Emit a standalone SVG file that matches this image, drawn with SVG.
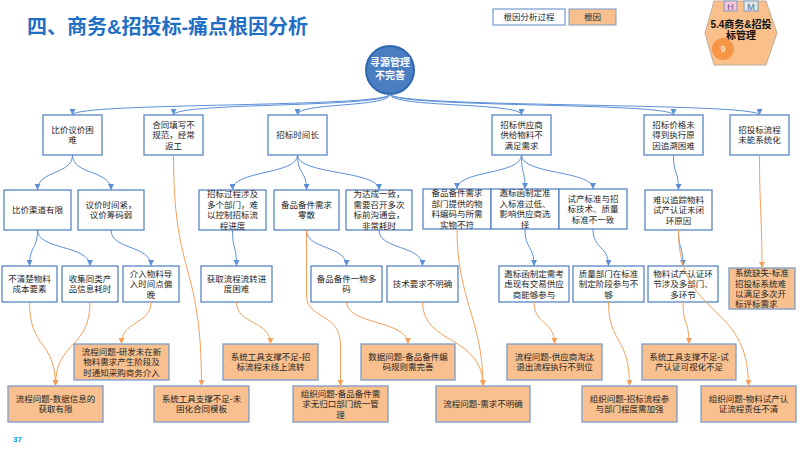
<svg xmlns="http://www.w3.org/2000/svg" width="800" height="450" viewBox="0 0 800 450">
<defs>
<style>
text{font-family:"Liberation Sans","Noto Sans CJK SC",sans-serif;font-size:8.5px;fill:#262626;text-anchor:middle}
.box{fill:#fff;stroke:#5a86c5;stroke-width:1.3}
.rc{fill:#f8c08e;stroke:#7c9cc9;stroke-width:1.3}
.b{fill:none;stroke:#5b8fd6;stroke-width:1;marker-end:url(#ab)}
.o{fill:none;stroke:#f5a05a;stroke-width:1;marker-end:url(#ao)}
.title{font-size:20px;font-weight:bold;fill:#1f6fc5;text-anchor:start}
</style>
<marker id="ab" viewBox="0 0 6 6" refX="6" refY="3" markerWidth="6" markerHeight="6" markerUnits="userSpaceOnUse" orient="auto"><path d="M0,0 L6,3 L0,6 z" fill="#5b8fd6"/></marker>
<marker id="ao" viewBox="0 0 6 6" refX="6" refY="3" markerWidth="6" markerHeight="6" markerUnits="userSpaceOnUse" orient="auto"><path d="M0,0 L6,3 L0,6 z" fill="#f5a05a"/></marker>
</defs>
<rect width="800" height="450" fill="#fff"/>
<text class="title" x="27" y="34">四、商务&amp;招投标-痛点根因分析</text>

<g id="legend">
<rect x="493" y="9" width="72" height="16" fill="#fff" stroke="#5a86c5" stroke-width="1"/>
<text x="529" y="20">根因分析过程</text>
<rect x="569" y="9" width="47" height="16" fill="#f8c08e" stroke="#7c9cc9" stroke-width="1"/>
<text x="592.5" y="20">根因</text>
</g>

<g id="badge">
<polygon points="714,1 766,1 777,33 766,65 714,65 705,33" fill="#f9c08c" stroke="#b0a090" stroke-width="0.8"/>
<rect x="724" y="1" width="13" height="10" fill="#f4c7d0" stroke="#6a8fc8" stroke-width="0.8"/>
<text x="730.5" y="10" style="font-size:9px;fill:#6a5aa8">H</text>
<rect x="744" y="1" width="14" height="10" fill="#dde8e0" stroke="#6a8fc8" stroke-width="0.8"/>
<text x="751" y="10" style="font-size:9px;fill:#4a6aa8">M</text>
<text x="741" y="28" style="font-size:10px;font-weight:bold;fill:#111">5.4商务&amp;招投</text>
<text x="741" y="39" style="font-size:10px;font-weight:bold;fill:#111">标管理</text>
<circle cx="723" cy="49" r="11" fill="#f79646"/>
<text x="723" y="52" style="font-size:9px;fill:#fff">9</text>
</g>

<g id="root">
<circle cx="390" cy="70" r="24" fill="#4a7ec2" stroke="#2f67b0" stroke-width="2"/>
<text x="390" y="66" style="font-size:10px;font-weight:bold;fill:#fff">寻源管理</text>
<text x="390" y="79" style="font-size:10px;font-weight:bold;fill:#fff">不完善</text>
</g>

<g id="n1"><rect class="box" x="43" y="115" width="59" height="40"/><text x="72.5" y="132.75">比价议价困</text><text x="72.5" y="143.25">难</text></g>
<g id="n2"><rect class="box" x="144" y="115" width="59" height="40"/><text x="173.5" y="127.5">合同填写不</text><text x="173.5" y="138">规范，经常</text><text x="173.5" y="148.5">返工</text></g>
<g id="n3"><rect class="box" x="268" y="115" width="59" height="40"/><text x="297.5" y="138">招标时间长</text></g>
<g id="n4"><rect class="box" x="492" y="115" width="59" height="40"/><text x="521.5" y="127.5">招标供应商</text><text x="521.5" y="138">供给物料不</text><text x="521.5" y="148.5">满足需求</text></g>
<g id="n5"><rect class="box" x="644" y="115" width="59" height="40"/><text x="673.5" y="127.5">招标价格未</text><text x="673.5" y="138">得到执行原</text><text x="673.5" y="148.5">因追溯困难</text></g>
<g id="n6"><rect class="box" x="730" y="115" width="59" height="40"/><text x="759.5" y="132.75">招投标流程</text><text x="759.5" y="143.25">未能系统化</text></g>

<g id="n7"><rect class="box" x="4" y="190" width="67" height="40"/><text x="37.5" y="213">比价渠道有限</text></g>
<g id="n8"><rect class="box" x="78" y="190" width="66" height="40"/><text x="111" y="207.75">议价时间紧，</text><text x="111" y="218.25">议价筹码弱</text></g>
<g id="n9"><rect class="box" x="199" y="190" width="67" height="40"/><text x="232.5" y="197">招标过程涉及</text><text x="232.5" y="207.5">多个部门，难</text><text x="232.5" y="218">以控制招标流</text><text x="232.5" y="228.5">程进度</text></g>
<g id="n10"><rect class="box" x="274" y="190" width="65" height="40"/><text x="306.5" y="207.75">备品备件需求</text><text x="306.5" y="218.25">零散</text></g>
<g id="n11"><rect class="box" x="346" y="190" width="66" height="40"/><text x="379" y="197">为达成一致，</text><text x="379" y="207.5">需要召开多次</text><text x="379" y="218">标前沟通会，</text><text x="379" y="228.5">非常耗时</text></g>
<g id="n12"><rect class="box" x="423" y="189" width="68" height="40"/><text x="457" y="196">备品备件需求</text><text x="457" y="206.5">部门提供的物</text><text x="457" y="217">料编码与所需</text><text x="457" y="227.5">实物不符</text></g>
<g id="n13"><rect class="box" x="491" y="189" width="68" height="40"/><text x="525" y="196">邀标函制定准</text><text x="525" y="206.5">入标准过低、</text><text x="525" y="217">影响供应商选</text><text x="525" y="227.5">择</text></g>
<g id="n14"><rect class="box" x="559" y="189" width="68" height="40"/><text x="593" y="201.5">试产标准与招</text><text x="593" y="212">标技术、质量</text><text x="593" y="222.5">标准不一致</text></g>
<g id="n15"><rect class="box" x="645" y="190" width="67" height="40"/><text x="678.5" y="202.5">难以追踪物料</text><text x="678.5" y="213">试产认证未闭</text><text x="678.5" y="223.5">环原因</text></g>

<g id="n16"><rect class="box" x="2" y="266" width="55" height="36"/><text x="29.5" y="281.75">不清楚物料</text><text x="29.5" y="292.25">成本要素</text></g>
<g id="n17"><rect class="box" x="62" y="266" width="56" height="36"/><text x="90" y="281.75">收集同类产</text><text x="90" y="292.25">品信息耗时</text></g>
<g id="n18"><rect class="box" x="123" y="266" width="56" height="36"/><text x="151" y="276.5">介入物料导</text><text x="151" y="287">入时间点偏</text><text x="151" y="297.5">晚</text></g>
<g id="n19"><rect class="box" x="201" y="266" width="71" height="36"/><text x="236.5" y="281.75">获取流程流转进</text><text x="236.5" y="292.25">度困难</text></g>
<g id="n20"><rect class="box" x="311" y="266" width="71" height="36"/><text x="346.5" y="281.75">备品备件一物多</text><text x="346.5" y="292.25">码</text></g>
<g id="n21"><rect class="box" x="387" y="266" width="71" height="36"/><text x="422.5" y="287">技术要求不明确</text></g>
<g id="n22"><rect class="box" x="499" y="266" width="70" height="36"/><text x="534" y="276.5">邀标函制定需考</text><text x="534" y="287">虑现有交易供应</text><text x="534" y="297.5">商能够参与</text></g>
<g id="n23"><rect class="box" x="573" y="266" width="71" height="36"/><text x="608.5" y="276.5">质量部门在标准</text><text x="608.5" y="287">制定阶段参与不</text><text x="608.5" y="297.5">够</text></g>
<g id="n24"><rect class="box" x="648" y="266" width="70" height="36"/><text x="683" y="276.5">物料试产认证环</text><text x="683" y="287">节涉及多部门、</text><text x="683" y="297.5">多环节</text></g>
<g id="n25"><rect class="rc" x="729" y="268" width="66" height="41"/><text x="735" y="276" style="text-anchor:start">系统缺失-标准</text><text x="735" y="286.5" style="text-anchor:start">招投标系统难</text><text x="735" y="297" style="text-anchor:start">以满足多次开</text><text x="735" y="307" style="text-anchor:start">标评标需求</text></g>

<g id="r1"><rect class="rc" x="74" y="344" width="95" height="36"/><text x="121.5" y="354.5">流程问题-研发未在新</text><text x="121.5" y="365">物料需求产生阶段及</text><text x="121.5" y="375.5">时通知采购商务介入</text></g>
<g id="r2"><rect class="rc" x="223" y="344" width="95" height="36"/><text x="270.5" y="359.75">系统工具支撑不足-招</text><text x="270.5" y="370.25">标流程未线上流转</text></g>
<g id="r3"><rect class="rc" x="361" y="344" width="94" height="36"/><text x="408" y="359.75">数据问题-备品备件编</text><text x="408" y="370.25">码规则需完善</text></g>
<g id="r4"><rect class="rc" x="507" y="344" width="95" height="36"/><text x="554.5" y="359.75">流程问题-供应商淘汰</text><text x="554.5" y="370.25">退出流程执行不到位</text></g>
<g id="r5"><rect class="rc" x="642" y="344" width="94" height="36"/><text x="689" y="359.75">系统工具支撑不足-试</text><text x="689" y="370.25">产认证可视化不足</text></g>

<g id="r6"><rect class="rc" x="8" y="386" width="95" height="36"/><text x="55.5" y="401.75">流程问题-数据信息的</text><text x="55.5" y="412.25">获取有限</text></g>
<g id="r7"><rect class="rc" x="154" y="386" width="95" height="36"/><text x="201.5" y="401.75">系统工具支撑不足-未</text><text x="201.5" y="412.25">固化合同模板</text></g>
<g id="r8"><rect class="rc" x="293" y="386" width="95" height="36"/><text x="340.5" y="396.5">组织问题-备品备件需</text><text x="340.5" y="407">求无归口部门统一管</text><text x="340.5" y="417.5">理</text></g>
<g id="r9"><rect class="rc" x="436" y="386" width="94" height="36"/><text x="483" y="407">流程问题-需求不明确</text></g>
<g id="r10"><rect class="rc" x="582" y="386" width="95" height="36"/><text x="629.5" y="401.75">组织问题-招标流程参</text><text x="629.5" y="412.25">与部门程度需加强</text></g>
<g id="r11"><rect class="rc" x="701" y="386" width="95" height="36"/><text x="748.5" y="401.75">组织问题-物料试产认</text><text x="748.5" y="412.25">证流程责任不清</text></g>

<g id="connectors">
<path class="b" d="M390,94 C390,108 72.5,102 72.5,115"/>
<path class="b" d="M390,94 C390,108 173.5,102 173.5,115"/>
<path class="b" d="M390,94 C390,108 297.5,102 297.5,115"/>
<path class="b" d="M390,94 C390,108 521.5,102 521.5,115"/>
<path class="b" d="M390,94 C390,108 673.5,102 673.5,115"/>
<path class="b" d="M390,94 C390,108 759.5,102 759.5,115"/>
<path class="b" d="M72.5,155 C72.5,175 37.5,170 37.5,190"/>
<path class="b" d="M72.5,155 C72.5,175 111,170 111,190"/>
<path class="b" d="M297.5,155 C297.5,175 232.5,170 232.5,190"/>
<path class="b" d="M297.5,155 C297.5,175 306.5,170 306.5,190"/>
<path class="b" d="M297.5,155 C297.5,175 379,170 379,190"/>
<path class="b" d="M521.5,155 C521.5,175 457,170 457,189"/>
<path class="b" d="M521.5,155 C521.5,175 525,170 525,189"/>
<path class="b" d="M521.5,155 C521.5,175 593,170 593,189"/>
<path class="b" d="M673.5,155 C673.5,175 678.5,170 678.5,190"/>
<path class="b" d="M37.5,230 C37.5,250 29.5,245 29.5,266"/>
<path class="b" d="M37.5,230 C37.5,250 90,245 90,266"/>
<path class="b" d="M111,230 C111,250 151,245 151,266"/>
<path class="b" d="M232.5,230 C232.5,250 236.5,245 236.5,266"/>
<path class="b" d="M306.5,230 C306.5,250 346.5,245 346.5,266"/>
<path class="b" d="M379,230 C379,250 422.5,245 422.5,266"/>
<path class="b" d="M525,229 C525,250 534,245 534,266"/>
<path class="b" d="M593,229 C593,250 608.5,245 608.5,266"/>
<path class="b" d="M678.5,230 C678.5,250 683,245 683,266"/>

<path class="o" d="M173.5,155 C173.5,280 201.5,260 201.5,386"/>
<path class="o" d="M759.5,155 C759.5,210 762,215 762,268"/>
<path class="o" d="M29.5,302 C29.5,350 55.5,340 55.5,386"/>
<path class="o" d="M90,302 C90,350 55.5,340 55.5,386"/>
<path class="o" d="M151,302 C151,325 121.5,320 121.5,344"/>
<path class="o" d="M236.5,302 C236.5,325 270.5,320 270.5,344"/>
<path class="o" d="M306.5,230 L306.5,295 C306.5,320 340.5,312 340.5,345 L340.5,386"/>
<path class="o" d="M346.5,302 C346.5,325 408,320 408,344"/>
<path class="o" d="M422.5,302 C422.5,345 483,335 483,386"/>
<path class="o" d="M457,229 C457,300 483,320 483,386"/>
<path class="o" d="M534,302 C534,325 554.5,320 554.5,344"/>
<path class="o" d="M608.5,302 C608.5,345 629.5,335 629.5,386"/>
<path class="o" d="M683,302 C683,325 689,320 689,344"/>
<path class="o" d="M678.5,230 C678.5,320 748.5,300 748.5,386"/>
</g>

<text x="13" y="442" style="font-size:8px;font-weight:bold;fill:#00a0e9;text-anchor:start">37</text>
</svg>
